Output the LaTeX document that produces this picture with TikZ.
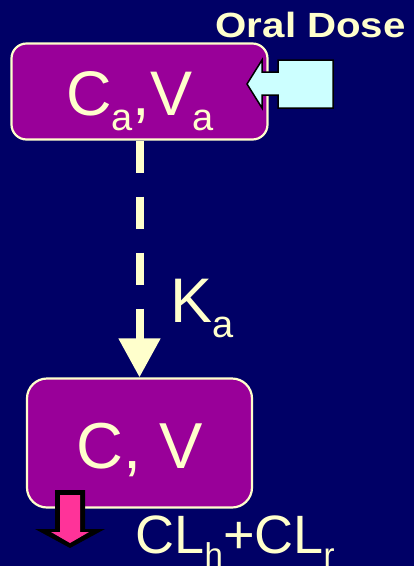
\documentclass[tikz,border=0pt]{standalone}
\usepackage{fontspec}
\setmainfont{Liberation Sans}
\usetikzlibrary{arrows.meta}
\definecolor{navy}{RGB}{0,0,102}
\definecolor{plum}{RGB}{153,0,153}
\definecolor{cream}{RGB}{255,255,204}
\definecolor{icecyan}{RGB}{204,255,255}
\definecolor{hotpink}{RGB}{255,51,153}
% lowered, smaller text for subscripts: size, drop, text
\newcommand\lowsub[3]{\raisebox{-#2pt}{\fontsize{#1}{#1}\selectfont #3}}

\begin{document}
\begin{tikzpicture}[x=1pt,y=-1pt,
  compartment/.style={draw=cream, line width=2.2pt, fill=plum, inner sep=0pt},
  lbl/.style={text=cream, inner sep=0pt},
  blockarrow/.style={draw=black, line width=1.5pt, line join=miter}]

% background
\fill[navy] (0,0) rectangle (414,566);
\useasboundingbox (0,0) rectangle (414,566);

% compartments
\node[compartment, minimum width=256pt, minimum height=96pt, rounded corners=15pt] (abs) at (139.5,91.5) {};
\node[compartment, minimum width=225pt, minimum height=129pt, rounded corners=20pt] (central) at (139.5,443) {};

\node[lbl, anchor=base, font=\fontsize{63}{63}\selectfont] (abstext) at (140,115) {C\lowsub{38}{15}{a},V\lowsub{38}{15}{a}};
\node[lbl, anchor=base, font=\fontsize{65}{65}\selectfont] (centraltext) at (139.5,468) {C, V};

% absorption: dashed transfer arrow
\draw[cream, line width=8pt, dash pattern=on 32pt off 24pt,
      -{Triangle[width=40pt,length=39pt]}] (abs.south) -- (central.north);
\node[lbl, anchor=base west, font=\fontsize{63}{63}\selectfont] (rate) at (170.5,322) {K\lowsub{38}{15}{a}};

% oral dose input
\node[lbl, anchor=base east, font=\fontsize{35}{35}\selectfont\bfseries] (dose) at (406,37) {\scalebox{1.15}[1]{Oral Dose}};
\draw[blockarrow, fill=icecyan] (247,84) -- (262,60) -- (262,72) -- (278,72) -- (278,60) -- (333,60)
  -- (333,108) -- (278,108) -- (278,95) -- (262,95) -- (262,108) -- cycle;

% elimination output
\fill[black] (55,490) -- (85,490) -- (85,529) -- (105,529) -- (70,548) -- (35,529) -- (55,529) -- cycle;
\fill[hotpink] (60,495) -- (80,495) -- (80,532) -- (89,532) -- (70,543) -- (51,532) -- (60,532) -- cycle;
\node[lbl, anchor=base west, font=\fontsize{54}{54}\selectfont] (clear) at (135.5,553) {CL\lowsub{33}{13}{h}+CL\lowsub{33}{13}{r}};

\end{tikzpicture}
\end{document}
